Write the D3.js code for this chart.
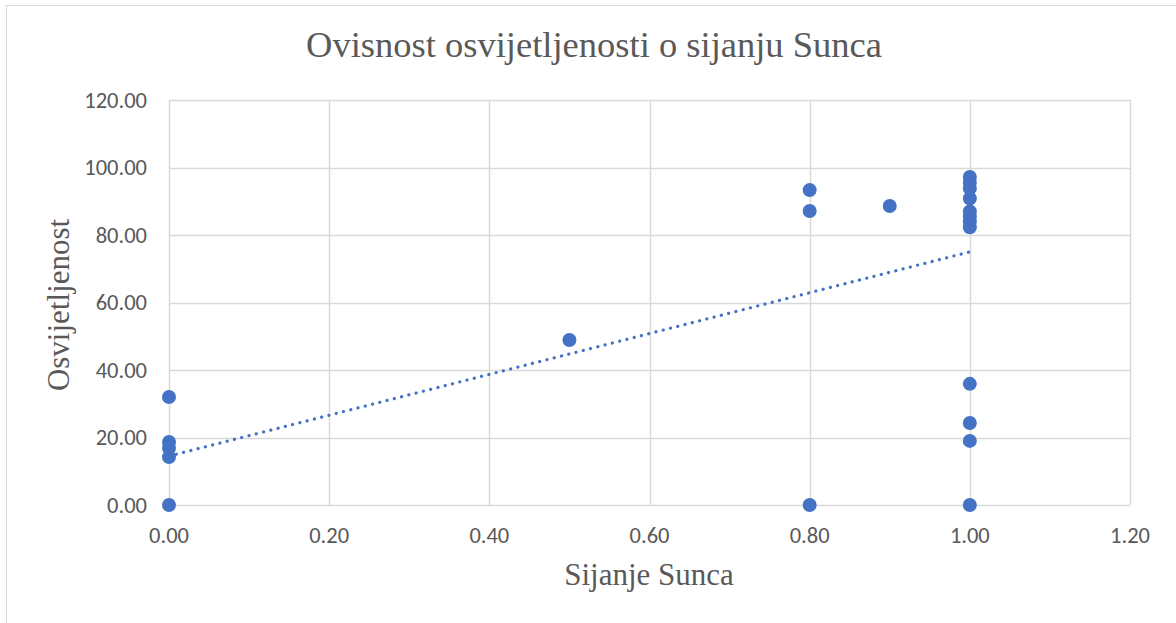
<!DOCTYPE html>
<html>
<head>
<meta charset="utf-8">
<script src="https://cdn.jsdelivr.net/npm/d3@7"></script>
<style>
  html, body { margin: 0; padding: 0; background: #fff; }
  svg { display: block; }
</style>
</head>
<body>
<div id="chart"></div>
<script>
// Observations: sunshine fraction (x) vs. illumination (y)
const sunshine = [
  0, 0, 0, 0, 0,
  0.5,
  0.8, 0.8, 0.8,
  0.9,
  1, 1, 1, 1, 1, 1, 1, 1, 1, 1, 1, 1
];
const illumination = [
  32.0, 18.7, 16.9, 14.2, 0,
  48.9,
  93.3, 87.1, 0,
  88.6,
  97.2, 95.5, 93.8, 90.8, 87.0, 85.5, 84.0, 82.3, 35.9, 24.3, 19.0, 0
];
// Linear trend line as shown on the chart
const trendIntercept = 14.5;
const trendSlope = 60.5;
const trendRange = [0, 1];

const xTicks = [0, 0.2, 0.4, 0.6, 0.8, 1.0, 1.2];
const yTicks = [0, 20, 40, 60, 80, 100, 120];

const width = 1176;
const height = 623;
const plot = { left: 169, right: 1130, top: 100, bottom: 505 };
const BLUE = "#4472C4";
const TEXT = "#595959";

const svg = d3.select("#chart")
  .append("svg")
  .attr("width", width)
  .attr("height", height);

// chart frame (right and bottom run off the page like the screenshot)
svg.append("rect")
  .attr("x", 6.5).attr("y", 5.5)
  .attr("width", 1200).attr("height", 700)
  .attr("fill", "#fff")
  .attr("stroke", "#d9d9d9");

const x = d3.scaleLinear().domain([0, 1.2]).range([plot.left, plot.right]);
const y = d3.scaleLinear().domain([0, 120]).range([plot.bottom, plot.top]);

// gridlines
svg.append("g")
  .selectAll("line")
  .data(yTicks)
  .join("line")
  .attr("x1", plot.left).attr("x2", plot.right)
  .attr("y1", d => Math.round(y(d)) + 0.5).attr("y2", d => Math.round(y(d)) + 0.5)
  .attr("stroke", "#d9d9d9").attr("stroke-width", 1.5);

svg.append("g")
  .selectAll("line")
  .data(xTicks)
  .join("line")
  .attr("x1", d => Math.round(x(d)) + 0.5).attr("x2", d => Math.round(x(d)) + 0.5)
  .attr("y1", plot.top).attr("y2", plot.bottom)
  .attr("stroke", "#d9d9d9").attr("stroke-width", 1.5);

// tick labels
const tickFont = "Carlito, 'Liberation Sans', 'Open Sans', sans-serif";
svg.append("g")
  .selectAll("text")
  .data(yTicks)
  .join("text")
  .attr("x", plot.left - 22)
  .attr("y", d => y(d) + 7.5)
  .attr("text-anchor", "end")
  .attr("font-family", tickFont)
  .attr("font-size", 22.5)
  .attr("fill", TEXT)
  .text(d => d3.format(".2f")(d));

svg.append("g")
  .selectAll("text")
  .data(xTicks)
  .join("text")
  .attr("x", d => x(d))
  .attr("y", plot.bottom + 38)
  .attr("text-anchor", "middle")
  .attr("font-family", tickFont)
  .attr("font-size", 22.5)
  .attr("fill", TEXT)
  .text(d => d3.format(".2f")(d));

// trend line (dotted)
const line = d3.line().x(d => x(d)).y(d => y(trendIntercept + trendSlope * d));
svg.append("path")
  .attr("d", line(trendRange))
  .attr("fill", "none")
  .attr("stroke", BLUE)
  .attr("stroke-width", 3.2)
  .attr("stroke-linecap", "round")
  .attr("stroke-dasharray", "0.1 7.4");

// points
svg.append("g")
  .selectAll("circle")
  .data(d3.zip(sunshine, illumination))
  .join("circle")
  .attr("cx", d => x(d[0]))
  .attr("cy", d => y(d[1]))
  .attr("r", 7)
  .attr("fill", BLUE);

// titles
const serif = "'Liberation Serif', 'Times New Roman', serif";
svg.append("text")
  .attr("x", 594).attr("y", 57)
  .attr("text-anchor", "middle")
  .attr("font-family", serif)
  .attr("font-size", 36.5)
  .attr("fill", TEXT)
  .text("Ovisnost osvijetljenosti o sijanju Sunca");

svg.append("text")
  .attr("x", 649).attr("y", 585)
  .attr("text-anchor", "middle")
  .attr("font-family", serif)
  .attr("font-size", 31)
  .attr("fill", TEXT)
  .text("Sijanje Sunca");

svg.append("text")
  .attr("transform", `translate(69, 305) rotate(-90)`)
  .attr("text-anchor", "middle")
  .attr("font-family", serif)
  .attr("font-size", 31)
  .attr("fill", TEXT)
  .text("Osvijetljenost");
</script>
</body>
</html>
